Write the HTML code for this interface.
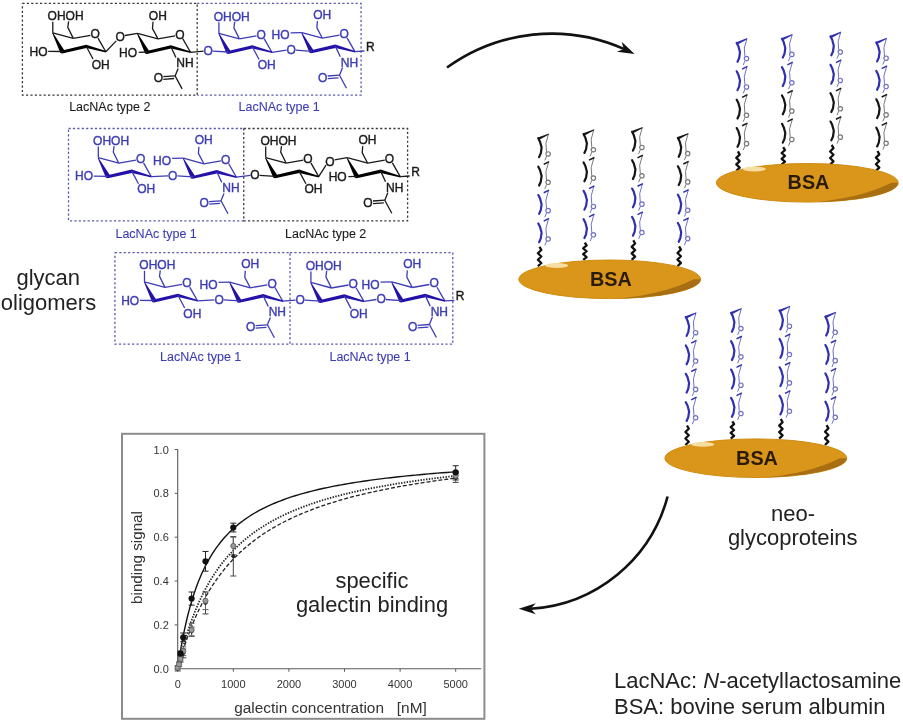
<!DOCTYPE html>
<html><head><meta charset="utf-8"><style>
html,body{margin:0;padding:0;background:#fff;}
body{width:903px;height:720px;overflow:hidden;position:relative;font-family:"Liberation Sans",sans-serif;}
svg{position:absolute;left:0;top:0;filter:blur(0.5px);}
svg text{font-family:"Liberation Sans",sans-serif;}
</style></head><body>
<svg width="903" height="720" viewBox="0 0 903 720">
<defs>
<g id="muk">
<path d="M0,0 L1.7,3.3 L3.3,9.2 L2.5,15 L0.8,18.8" stroke="#151515" stroke-width="2.2" fill="none" stroke-linecap="round" stroke-linejoin="round"/>
<path d="M10.2,-4.2 L7.6,5 L8.2,13.4 M8.4,17.6 L6.5,22" stroke="#777777" stroke-width="1" fill="none"/>
<circle cx="9.8" cy="15.6" r="2.2" stroke="#777777" stroke-width="1.2" fill="none"/>
</g>
<g id="dgk"><polygon points="10.6,-4.9 10.2,-3.6 1.0,1.4 -1.0,-0.6" fill="#151515"/></g>
<g id="tkk"><path d="M5.4,-2.3 L10.8,-5" stroke="#151515" stroke-width="1.5" fill="none"/></g>
<g id="mub">
<path d="M0,0 L1.7,3.3 L3.3,9.2 L2.5,15 L0.8,18.8" stroke="#2f2fb0" stroke-width="2.2" fill="none" stroke-linecap="round" stroke-linejoin="round"/>
<path d="M10.2,-4.2 L7.6,5 L8.2,13.4 M8.4,17.6 L6.5,22" stroke="#7070c4" stroke-width="1" fill="none"/>
<circle cx="9.8" cy="15.6" r="2.2" stroke="#7070c4" stroke-width="1.2" fill="none"/>
</g>
<g id="dgb"><polygon points="10.6,-4.9 10.2,-3.6 1.0,1.4 -1.0,-0.6" fill="#2f2fb0"/></g>
<g id="tkb"><path d="M5.4,-2.3 L10.8,-5" stroke="#2f2fb0" stroke-width="1.5" fill="none"/></g>
</defs>
<g stroke-linecap="butt">
<path d="M197.2,3.3 H361.1 V95.1 H197.2" fill="none" stroke="#5a5ab0" stroke-width="1.3" stroke-dasharray="2.2 2.2"/>
<path d="M22.4,3.3 H197.2 V95.1 H22.4 V3.3" fill="none" stroke="#3a3a3a" stroke-width="1.3" stroke-dasharray="2.2 2.2"/>
<line x1="52.8" y1="32.8" x2="73.3" y2="38.4" stroke="#1a1a1a" stroke-width="1.3"/>
<line x1="73.3" y1="38.4" x2="90.4" y2="35.4" stroke="#1a1a1a" stroke-width="1.3"/>
<line x1="98" y1="38.1" x2="105.8" y2="51.8" stroke="#1a1a1a" stroke-width="1.3"/>
<polygon points="52.8,32.6 64.1,50 86.2,44.7 106,51.1 106,52.6 86.4,48.1 62.2,53.4 60.4,53 52.2,33.1" fill="#000000"/>
<text x="90.43" y="38.32" fill="#1a1a1a" stroke="#1a1a1a" stroke-width="0.4" font-size="12" text-anchor="start" >O</text>
<line x1="52.8" y1="32.8" x2="52.8" y2="21.8" stroke="#1a1a1a" stroke-width="1.3"/>
<path d="M73.3,38.4 L67.8,27.3 L68.6,21.3" stroke="#1a1a1a" stroke-width="1.3" fill="none" />
<text x="47.6" y="20.12" fill="#1a1a1a" stroke="#1a1a1a" stroke-width="0.4" font-size="12" text-anchor="start" >OHOH</text>
<line x1="86.2" y1="46.3" x2="93" y2="59" stroke="#1a1a1a" stroke-width="1.3"/>
<text x="91.63" y="68.52" fill="#1a1a1a" stroke="#1a1a1a" stroke-width="0.4" font-size="12" text-anchor="start" >OH</text>
<line x1="62.6" y1="51.5" x2="48.2" y2="51.3" stroke="#1a1a1a" stroke-width="1.3"/>
<text x="47.47" y="55.52" fill="#1a1a1a" stroke="#1a1a1a" stroke-width="0.4" font-size="12" text-anchor="end" >HO</text>
<line x1="137.5" y1="33.3" x2="158" y2="38.9" stroke="#1a1a1a" stroke-width="1.3"/>
<line x1="158" y1="38.9" x2="175.1" y2="35.9" stroke="#1a1a1a" stroke-width="1.3"/>
<line x1="182.7" y1="38.6" x2="190.5" y2="52.3" stroke="#1a1a1a" stroke-width="1.3"/>
<polygon points="137.5,33.1 148.8,50.5 170.9,45.2 190.7,51.6 190.7,53.1 171.1,48.6 146.9,53.9 145.1,53.5 136.9,33.6" fill="#000000"/>
<text x="175.13" y="38.82" fill="#1a1a1a" stroke="#1a1a1a" stroke-width="0.4" font-size="12" text-anchor="start" >O</text>
<path d="M158,38.9 L152.5,28.5 L153,21.8" stroke="#1a1a1a" stroke-width="1.3" fill="none" />
<text x="148.83" y="19.52" fill="#1a1a1a" stroke="#1a1a1a" stroke-width="0.4" font-size="12" text-anchor="start" >OH</text>
<line x1="170.9" y1="46.8" x2="175.9" y2="57.5" stroke="#1a1a1a" stroke-width="1.3"/>
<text x="176.36" y="67.42" fill="#1a1a1a" stroke="#1a1a1a" stroke-width="0.4" font-size="12" text-anchor="start" >NH</text>
<line x1="178.1" y1="68.5" x2="175.1" y2="75.9" stroke="#1a1a1a" stroke-width="1.3"/>
<line x1="175.1" y1="75.9" x2="182.1" y2="88.9" stroke="#1a1a1a" stroke-width="1.3"/>
<line x1="175.1" y1="75.9" x2="163.3" y2="76.7" stroke="#1a1a1a" stroke-width="1.3"/>
<line x1="174.1" y1="78.5" x2="163.3" y2="79.3" stroke="#1a1a1a" stroke-width="1.3"/>
<text x="153.63" y="82.22" fill="#1a1a1a" stroke="#1a1a1a" stroke-width="0.4" font-size="12" text-anchor="start" >O</text>
<line x1="124.9" y1="35.5" x2="137.5" y2="33.3" stroke="#1a1a1a" stroke-width="1.3"/>
<text x="115.43" y="41.22" fill="#1a1a1a" stroke="#1a1a1a" stroke-width="0.4" font-size="12" text-anchor="start" >O</text>
<line x1="147.3" y1="52" x2="138.7" y2="52.3" stroke="#1a1a1a" stroke-width="1.3"/>
<text x="136.97" y="57.02" fill="#1a1a1a" stroke="#1a1a1a" stroke-width="0.4" font-size="12" text-anchor="end" >HO</text>
<line x1="105.8" y1="51.8" x2="116.3" y2="40.9" stroke="#1a1a1a" stroke-width="1.3"/>
<line x1="190.5" y1="52.3" x2="203.6" y2="51.1" stroke="#1a1a1a" stroke-width="1.3"/>
<line x1="218.9" y1="33.3" x2="239.4" y2="38.9" stroke="#3c3cb4" stroke-width="1.3"/>
<line x1="239.4" y1="38.9" x2="256.5" y2="35.9" stroke="#3c3cb4" stroke-width="1.3"/>
<line x1="264.1" y1="38.6" x2="271.9" y2="52.3" stroke="#3c3cb4" stroke-width="1.3"/>
<polygon points="218.9,33.1 230.2,50.5 252.3,45.2 272.1,51.6 272.1,53.1 252.5,48.6 228.3,53.9 226.5,53.5 218.3,33.6" fill="#2412a8"/>
<text x="256.53" y="38.82" fill="#3c3cb4" stroke="#3c3cb4" stroke-width="0.4" font-size="12" text-anchor="start" >O</text>
<line x1="218.9" y1="33.3" x2="218.9" y2="22.3" stroke="#3c3cb4" stroke-width="1.3"/>
<path d="M239.4,38.9 L233.9,27.8 L234.7,21.8" stroke="#3c3cb4" stroke-width="1.3" fill="none" />
<text x="213.7" y="20.62" fill="#3c3cb4" stroke="#3c3cb4" stroke-width="0.4" font-size="12" text-anchor="start" >OHOH</text>
<line x1="252.3" y1="46.8" x2="259.1" y2="59.5" stroke="#3c3cb4" stroke-width="1.3"/>
<text x="257.73" y="69.02" fill="#3c3cb4" stroke="#3c3cb4" stroke-width="0.4" font-size="12" text-anchor="start" >OH</text>
<line x1="228.7" y1="52" x2="212.7" y2="51.1" stroke="#3c3cb4" stroke-width="1.3"/>
<text x="203.43" y="55.02" fill="#3c3cb4" stroke="#3c3cb4" stroke-width="0.4" font-size="12" text-anchor="start" >O</text>
<line x1="301.9" y1="32.6" x2="322.4" y2="38.2" stroke="#3c3cb4" stroke-width="1.3"/>
<line x1="322.4" y1="38.2" x2="339.5" y2="35.2" stroke="#3c3cb4" stroke-width="1.3"/>
<line x1="347.1" y1="37.9" x2="354.9" y2="51.6" stroke="#3c3cb4" stroke-width="1.3"/>
<polygon points="301.9,32.4 313.2,49.8 335.3,44.5 355.1,50.9 355.1,52.4 335.5,47.9 311.3,53.2 309.5,52.8 301.3,32.9" fill="#2412a8"/>
<text x="339.53" y="38.12" fill="#3c3cb4" stroke="#3c3cb4" stroke-width="0.4" font-size="12" text-anchor="start" >O</text>
<path d="M322.4,38.2 L316.9,27.8 L317.4,21.1" stroke="#3c3cb4" stroke-width="1.3" fill="none" />
<text x="313.23" y="18.82" fill="#3c3cb4" stroke="#3c3cb4" stroke-width="0.4" font-size="12" text-anchor="start" >OH</text>
<line x1="335.3" y1="46.1" x2="340.3" y2="56.8" stroke="#3c3cb4" stroke-width="1.3"/>
<text x="340.76" y="66.72" fill="#3c3cb4" stroke="#3c3cb4" stroke-width="0.4" font-size="12" text-anchor="start" >NH</text>
<line x1="342.5" y1="67.8" x2="339.5" y2="75.2" stroke="#3c3cb4" stroke-width="1.3"/>
<line x1="339.5" y1="75.2" x2="346.5" y2="88.2" stroke="#3c3cb4" stroke-width="1.3"/>
<line x1="339.5" y1="75.2" x2="327.7" y2="76" stroke="#3c3cb4" stroke-width="1.3"/>
<line x1="338.5" y1="77.8" x2="327.7" y2="78.6" stroke="#3c3cb4" stroke-width="1.3"/>
<text x="318.03" y="81.52" fill="#3c3cb4" stroke="#3c3cb4" stroke-width="0.4" font-size="12" text-anchor="start" >O</text>
<line x1="290.6" y1="32.8" x2="301.9" y2="32.6" stroke="#3c3cb4" stroke-width="1.3"/>
<text x="289.57" y="39.42" fill="#3c3cb4" stroke="#3c3cb4" stroke-width="0.4" font-size="12" text-anchor="end" >HO</text>
<line x1="295.9" y1="50.2" x2="311.7" y2="51.3" stroke="#3c3cb4" stroke-width="1.3"/>
<text x="286.53" y="53.92" fill="#3c3cb4" stroke="#3c3cb4" stroke-width="0.4" font-size="12" text-anchor="start" >O</text>
<line x1="271.9" y1="52.3" x2="286.5" y2="50.2" stroke="#3c3cb4" stroke-width="1.3"/>
<line x1="354.9" y1="51.6" x2="364.4" y2="51" stroke="#3c3cb4" stroke-width="1.3"/>
<text x="365.96" y="50.62" fill="#1a1a1a" stroke="#1a1a1a" stroke-width="0.4" font-size="12" text-anchor="start" >R</text>
<text x="109.8" y="110.5" fill="#1a1a1a" stroke="#1a1a1a" stroke-width="0.1" font-size="12.5" text-anchor="middle" >LacNAc type 2</text>
<text x="279.15" y="110.5" fill="#3c3cb4" stroke="#3c3cb4" stroke-width="0.1" font-size="12.5" text-anchor="middle" >LacNAc type 1</text>
<path d="M68.5,128.5 H243.75 M243.75,220.8 H68.5 V128.5" fill="none" stroke="#5a5ab0" stroke-width="1.3" stroke-dasharray="2.2 2.2"/>
<path d="M243.75,128.5 H407.6 V220.8 H243.75 V128.5" fill="none" stroke="#3a3a3a" stroke-width="1.3" stroke-dasharray="2.2 2.2"/>
<line x1="98.3" y1="157.6" x2="118.8" y2="163.2" stroke="#3c3cb4" stroke-width="1.3"/>
<line x1="118.8" y1="163.2" x2="135.9" y2="160.2" stroke="#3c3cb4" stroke-width="1.3"/>
<line x1="143.5" y1="162.9" x2="151.3" y2="176.6" stroke="#3c3cb4" stroke-width="1.3"/>
<polygon points="98.3,157.4 109.6,174.8 131.7,169.5 151.5,175.9 151.5,177.4 131.9,172.9 107.7,178.2 105.9,177.8 97.7,157.9" fill="#2412a8"/>
<text x="135.93" y="163.12" fill="#3c3cb4" stroke="#3c3cb4" stroke-width="0.4" font-size="12" text-anchor="start" >O</text>
<line x1="98.3" y1="157.6" x2="98.3" y2="146.6" stroke="#3c3cb4" stroke-width="1.3"/>
<path d="M118.8,163.2 L113.3,152.1 L114.1,146.1" stroke="#3c3cb4" stroke-width="1.3" fill="none" />
<text x="93.1" y="144.92" fill="#3c3cb4" stroke="#3c3cb4" stroke-width="0.4" font-size="12" text-anchor="start" >OHOH</text>
<line x1="131.7" y1="171.1" x2="138.5" y2="183.8" stroke="#3c3cb4" stroke-width="1.3"/>
<text x="137.13" y="193.32" fill="#3c3cb4" stroke="#3c3cb4" stroke-width="0.4" font-size="12" text-anchor="start" >OH</text>
<line x1="108.1" y1="176.3" x2="93.7" y2="176.1" stroke="#3c3cb4" stroke-width="1.3"/>
<text x="92.97" y="180.32" fill="#3c3cb4" stroke="#3c3cb4" stroke-width="0.4" font-size="12" text-anchor="end" >HO</text>
<line x1="183.4" y1="158.2" x2="203.9" y2="163.8" stroke="#3c3cb4" stroke-width="1.3"/>
<line x1="203.9" y1="163.8" x2="221" y2="160.8" stroke="#3c3cb4" stroke-width="1.3"/>
<line x1="228.6" y1="163.5" x2="236.4" y2="177.2" stroke="#3c3cb4" stroke-width="1.3"/>
<polygon points="183.4,158 194.7,175.4 216.8,170.1 236.6,176.5 236.6,178 217,173.5 192.8,178.8 191,178.4 182.8,158.5" fill="#2412a8"/>
<text x="221.03" y="163.72" fill="#3c3cb4" stroke="#3c3cb4" stroke-width="0.4" font-size="12" text-anchor="start" >O</text>
<path d="M203.9,163.8 L198.4,153.4 L198.9,146.7" stroke="#3c3cb4" stroke-width="1.3" fill="none" />
<text x="194.73" y="144.42" fill="#3c3cb4" stroke="#3c3cb4" stroke-width="0.4" font-size="12" text-anchor="start" >OH</text>
<line x1="216.8" y1="171.7" x2="221.8" y2="182.4" stroke="#3c3cb4" stroke-width="1.3"/>
<text x="222.26" y="192.32" fill="#3c3cb4" stroke="#3c3cb4" stroke-width="0.4" font-size="12" text-anchor="start" >NH</text>
<line x1="224" y1="193.4" x2="221" y2="200.8" stroke="#3c3cb4" stroke-width="1.3"/>
<line x1="221" y1="200.8" x2="228" y2="213.8" stroke="#3c3cb4" stroke-width="1.3"/>
<line x1="221" y1="200.8" x2="209.2" y2="201.6" stroke="#3c3cb4" stroke-width="1.3"/>
<line x1="220" y1="203.4" x2="209.2" y2="204.2" stroke="#3c3cb4" stroke-width="1.3"/>
<text x="199.53" y="207.12" fill="#3c3cb4" stroke="#3c3cb4" stroke-width="0.4" font-size="12" text-anchor="start" >O</text>
<line x1="172.1" y1="158.4" x2="183.4" y2="158.2" stroke="#3c3cb4" stroke-width="1.3"/>
<text x="171.07" y="165.02" fill="#3c3cb4" stroke="#3c3cb4" stroke-width="0.4" font-size="12" text-anchor="end" >HO</text>
<line x1="177.4" y1="175.8" x2="193.2" y2="176.9" stroke="#3c3cb4" stroke-width="1.3"/>
<text x="168.03" y="179.52" fill="#3c3cb4" stroke="#3c3cb4" stroke-width="0.4" font-size="12" text-anchor="start" >O</text>
<line x1="151.3" y1="176.6" x2="168" y2="175.8" stroke="#3c3cb4" stroke-width="1.3"/>
<line x1="236.4" y1="177.2" x2="250.4" y2="175.4" stroke="#3c3cb4" stroke-width="1.3"/>
<line x1="265.7" y1="157.6" x2="286.2" y2="163.2" stroke="#1a1a1a" stroke-width="1.3"/>
<line x1="286.2" y1="163.2" x2="303.3" y2="160.2" stroke="#1a1a1a" stroke-width="1.3"/>
<line x1="310.9" y1="162.9" x2="318.7" y2="176.6" stroke="#1a1a1a" stroke-width="1.3"/>
<polygon points="265.7,157.4 277,174.8 299.1,169.5 318.9,175.9 318.9,177.4 299.3,172.9 275.1,178.2 273.3,177.8 265.1,157.9" fill="#000000"/>
<text x="303.33" y="163.12" fill="#1a1a1a" stroke="#1a1a1a" stroke-width="0.4" font-size="12" text-anchor="start" >O</text>
<line x1="265.7" y1="157.6" x2="265.7" y2="146.6" stroke="#1a1a1a" stroke-width="1.3"/>
<path d="M286.2,163.2 L280.7,152.1 L281.5,146.1" stroke="#1a1a1a" stroke-width="1.3" fill="none" />
<text x="260.5" y="144.92" fill="#1a1a1a" stroke="#1a1a1a" stroke-width="0.4" font-size="12" text-anchor="start" >OHOH</text>
<line x1="299.1" y1="171.1" x2="305.9" y2="183.8" stroke="#1a1a1a" stroke-width="1.3"/>
<text x="304.53" y="193.32" fill="#1a1a1a" stroke="#1a1a1a" stroke-width="0.4" font-size="12" text-anchor="start" >OH</text>
<line x1="275.5" y1="176.3" x2="259.5" y2="175.4" stroke="#1a1a1a" stroke-width="1.3"/>
<text x="250.23" y="179.32" fill="#1a1a1a" stroke="#1a1a1a" stroke-width="0.4" font-size="12" text-anchor="start" >O</text>
<line x1="347.2" y1="157.6" x2="367.7" y2="163.2" stroke="#1a1a1a" stroke-width="1.3"/>
<line x1="367.7" y1="163.2" x2="384.8" y2="160.2" stroke="#1a1a1a" stroke-width="1.3"/>
<line x1="392.4" y1="162.9" x2="400.2" y2="176.6" stroke="#1a1a1a" stroke-width="1.3"/>
<polygon points="347.2,157.4 358.5,174.8 380.6,169.5 400.4,175.9 400.4,177.4 380.8,172.9 356.6,178.2 354.8,177.8 346.6,157.9" fill="#000000"/>
<text x="384.83" y="163.12" fill="#1a1a1a" stroke="#1a1a1a" stroke-width="0.4" font-size="12" text-anchor="start" >O</text>
<path d="M367.7,163.2 L362.2,152.8 L362.7,146.1" stroke="#1a1a1a" stroke-width="1.3" fill="none" />
<text x="358.53" y="143.82" fill="#1a1a1a" stroke="#1a1a1a" stroke-width="0.4" font-size="12" text-anchor="start" >OH</text>
<line x1="380.6" y1="171.1" x2="385.6" y2="181.8" stroke="#1a1a1a" stroke-width="1.3"/>
<text x="386.06" y="191.72" fill="#1a1a1a" stroke="#1a1a1a" stroke-width="0.4" font-size="12" text-anchor="start" >NH</text>
<line x1="387.8" y1="192.8" x2="384.8" y2="200.2" stroke="#1a1a1a" stroke-width="1.3"/>
<line x1="384.8" y1="200.2" x2="391.8" y2="213.2" stroke="#1a1a1a" stroke-width="1.3"/>
<line x1="384.8" y1="200.2" x2="373" y2="201" stroke="#1a1a1a" stroke-width="1.3"/>
<line x1="383.8" y1="202.8" x2="373" y2="203.6" stroke="#1a1a1a" stroke-width="1.3"/>
<text x="363.33" y="206.52" fill="#1a1a1a" stroke="#1a1a1a" stroke-width="0.4" font-size="12" text-anchor="start" >O</text>
<line x1="334.6" y1="159.8" x2="347.2" y2="157.6" stroke="#1a1a1a" stroke-width="1.3"/>
<text x="325.13" y="165.52" fill="#1a1a1a" stroke="#1a1a1a" stroke-width="0.4" font-size="12" text-anchor="start" >O</text>
<line x1="357" y1="176.3" x2="348.4" y2="176.6" stroke="#1a1a1a" stroke-width="1.3"/>
<text x="346.67" y="181.32" fill="#1a1a1a" stroke="#1a1a1a" stroke-width="0.4" font-size="12" text-anchor="end" >HO</text>
<line x1="318.7" y1="176.6" x2="326" y2="165.2" stroke="#1a1a1a" stroke-width="1.3"/>
<line x1="400.2" y1="176.6" x2="409.7" y2="176" stroke="#1a1a1a" stroke-width="1.3"/>
<text x="411.26" y="175.62" fill="#1a1a1a" stroke="#1a1a1a" stroke-width="0.4" font-size="12" text-anchor="start" >R</text>
<text x="156.12" y="237.5" fill="#3c3cb4" stroke="#3c3cb4" stroke-width="0.1" font-size="12.5" text-anchor="middle" >LacNAc type 1</text>
<text x="325.68" y="237.5" fill="#1a1a1a" stroke="#1a1a1a" stroke-width="0.1" font-size="12.5" text-anchor="middle" >LacNAc type 2</text>
<path d="M114.9,252.6 H290 V344.2 H114.9 V252.6" fill="none" stroke="#5a5ab0" stroke-width="1.3" stroke-dasharray="2.2 2.2"/>
<path d="M290,252.6 H452.8 V344.2 H290" fill="none" stroke="#5a5ab0" stroke-width="1.3" stroke-dasharray="2.2 2.2"/>
<line x1="144.5" y1="281.8" x2="165" y2="287.4" stroke="#3c3cb4" stroke-width="1.3"/>
<line x1="165" y1="287.4" x2="182.1" y2="284.4" stroke="#3c3cb4" stroke-width="1.3"/>
<line x1="189.7" y1="287.1" x2="197.5" y2="300.8" stroke="#3c3cb4" stroke-width="1.3"/>
<polygon points="144.5,281.6 155.8,299 177.9,293.7 197.7,300.1 197.7,301.6 178.1,297.1 153.9,302.4 152.1,302 143.9,282.1" fill="#2412a8"/>
<text x="182.13" y="287.32" fill="#3c3cb4" stroke="#3c3cb4" stroke-width="0.4" font-size="12" text-anchor="start" >O</text>
<line x1="144.5" y1="281.8" x2="144.5" y2="270.8" stroke="#3c3cb4" stroke-width="1.3"/>
<path d="M165,287.4 L159.5,276.3 L160.3,270.3" stroke="#3c3cb4" stroke-width="1.3" fill="none" />
<text x="139.3" y="269.12" fill="#3c3cb4" stroke="#3c3cb4" stroke-width="0.4" font-size="12" text-anchor="start" >OHOH</text>
<line x1="177.9" y1="295.3" x2="184.7" y2="308" stroke="#3c3cb4" stroke-width="1.3"/>
<text x="183.33" y="317.52" fill="#3c3cb4" stroke="#3c3cb4" stroke-width="0.4" font-size="12" text-anchor="start" >OH</text>
<line x1="154.3" y1="300.5" x2="139.9" y2="300.3" stroke="#3c3cb4" stroke-width="1.3"/>
<text x="139.17" y="304.52" fill="#3c3cb4" stroke="#3c3cb4" stroke-width="0.4" font-size="12" text-anchor="end" >HO</text>
<line x1="229.8" y1="282.2" x2="250.3" y2="287.8" stroke="#3c3cb4" stroke-width="1.3"/>
<line x1="250.3" y1="287.8" x2="267.4" y2="284.8" stroke="#3c3cb4" stroke-width="1.3"/>
<line x1="275" y1="287.5" x2="282.8" y2="301.2" stroke="#3c3cb4" stroke-width="1.3"/>
<polygon points="229.8,282 241.1,299.4 263.2,294.1 283,300.5 283,302 263.4,297.5 239.2,302.8 237.4,302.4 229.2,282.5" fill="#2412a8"/>
<text x="267.43" y="287.72" fill="#3c3cb4" stroke="#3c3cb4" stroke-width="0.4" font-size="12" text-anchor="start" >O</text>
<path d="M250.3,287.8 L244.8,277.4 L245.3,270.7" stroke="#3c3cb4" stroke-width="1.3" fill="none" />
<text x="241.13" y="268.42" fill="#3c3cb4" stroke="#3c3cb4" stroke-width="0.4" font-size="12" text-anchor="start" >OH</text>
<line x1="263.2" y1="295.7" x2="268.2" y2="306.4" stroke="#3c3cb4" stroke-width="1.3"/>
<text x="268.66" y="316.32" fill="#3c3cb4" stroke="#3c3cb4" stroke-width="0.4" font-size="12" text-anchor="start" >NH</text>
<line x1="270.4" y1="317.4" x2="267.4" y2="324.8" stroke="#3c3cb4" stroke-width="1.3"/>
<line x1="267.4" y1="324.8" x2="274.4" y2="337.8" stroke="#3c3cb4" stroke-width="1.3"/>
<line x1="267.4" y1="324.8" x2="255.6" y2="325.6" stroke="#3c3cb4" stroke-width="1.3"/>
<line x1="266.4" y1="327.4" x2="255.6" y2="328.2" stroke="#3c3cb4" stroke-width="1.3"/>
<text x="245.93" y="331.12" fill="#3c3cb4" stroke="#3c3cb4" stroke-width="0.4" font-size="12" text-anchor="start" >O</text>
<line x1="218.5" y1="282.4" x2="229.8" y2="282.2" stroke="#3c3cb4" stroke-width="1.3"/>
<text x="217.47" y="289.02" fill="#3c3cb4" stroke="#3c3cb4" stroke-width="0.4" font-size="12" text-anchor="end" >HO</text>
<line x1="223.8" y1="299.8" x2="239.6" y2="300.9" stroke="#3c3cb4" stroke-width="1.3"/>
<text x="214.43" y="303.52" fill="#3c3cb4" stroke="#3c3cb4" stroke-width="0.4" font-size="12" text-anchor="start" >O</text>
<line x1="197.5" y1="300.8" x2="214.4" y2="299.8" stroke="#3c3cb4" stroke-width="1.3"/>
<line x1="282.8" y1="301.2" x2="295.6" y2="300.2" stroke="#3c3cb4" stroke-width="1.3"/>
<line x1="310.9" y1="282.4" x2="331.4" y2="288" stroke="#3c3cb4" stroke-width="1.3"/>
<line x1="331.4" y1="288" x2="348.5" y2="285" stroke="#3c3cb4" stroke-width="1.3"/>
<line x1="356.1" y1="287.7" x2="363.9" y2="301.4" stroke="#3c3cb4" stroke-width="1.3"/>
<polygon points="310.9,282.2 322.2,299.6 344.3,294.3 364.1,300.7 364.1,302.2 344.5,297.7 320.3,303 318.5,302.6 310.3,282.7" fill="#2412a8"/>
<text x="348.53" y="287.92" fill="#3c3cb4" stroke="#3c3cb4" stroke-width="0.4" font-size="12" text-anchor="start" >O</text>
<line x1="310.9" y1="282.4" x2="310.9" y2="271.4" stroke="#3c3cb4" stroke-width="1.3"/>
<path d="M331.4,288 L325.9,276.9 L326.7,270.9" stroke="#3c3cb4" stroke-width="1.3" fill="none" />
<text x="305.7" y="269.72" fill="#3c3cb4" stroke="#3c3cb4" stroke-width="0.4" font-size="12" text-anchor="start" >OHOH</text>
<line x1="344.3" y1="295.9" x2="351.1" y2="308.6" stroke="#3c3cb4" stroke-width="1.3"/>
<text x="349.73" y="318.12" fill="#3c3cb4" stroke="#3c3cb4" stroke-width="0.4" font-size="12" text-anchor="start" >OH</text>
<line x1="320.7" y1="301.1" x2="304.7" y2="300.2" stroke="#3c3cb4" stroke-width="1.3"/>
<text x="295.43" y="304.12" fill="#3c3cb4" stroke="#3c3cb4" stroke-width="0.4" font-size="12" text-anchor="start" >O</text>
<line x1="391.8" y1="281.9" x2="412.3" y2="287.5" stroke="#3c3cb4" stroke-width="1.3"/>
<line x1="412.3" y1="287.5" x2="429.4" y2="284.5" stroke="#3c3cb4" stroke-width="1.3"/>
<line x1="437" y1="287.2" x2="444.8" y2="300.9" stroke="#3c3cb4" stroke-width="1.3"/>
<polygon points="391.8,281.7 403.1,299.1 425.2,293.8 445,300.2 445,301.7 425.4,297.2 401.2,302.5 399.4,302.1 391.2,282.2" fill="#2412a8"/>
<text x="429.43" y="287.42" fill="#3c3cb4" stroke="#3c3cb4" stroke-width="0.4" font-size="12" text-anchor="start" >O</text>
<path d="M412.3,287.5 L406.8,277.1 L407.3,270.4" stroke="#3c3cb4" stroke-width="1.3" fill="none" />
<text x="403.13" y="268.12" fill="#3c3cb4" stroke="#3c3cb4" stroke-width="0.4" font-size="12" text-anchor="start" >OH</text>
<line x1="425.2" y1="295.4" x2="430.2" y2="306.1" stroke="#3c3cb4" stroke-width="1.3"/>
<text x="430.66" y="316.02" fill="#3c3cb4" stroke="#3c3cb4" stroke-width="0.4" font-size="12" text-anchor="start" >NH</text>
<line x1="432.4" y1="317.1" x2="429.4" y2="324.5" stroke="#3c3cb4" stroke-width="1.3"/>
<line x1="429.4" y1="324.5" x2="436.4" y2="337.5" stroke="#3c3cb4" stroke-width="1.3"/>
<line x1="429.4" y1="324.5" x2="417.6" y2="325.3" stroke="#3c3cb4" stroke-width="1.3"/>
<line x1="428.4" y1="327.1" x2="417.6" y2="327.9" stroke="#3c3cb4" stroke-width="1.3"/>
<text x="407.93" y="330.82" fill="#3c3cb4" stroke="#3c3cb4" stroke-width="0.4" font-size="12" text-anchor="start" >O</text>
<line x1="380.5" y1="282.1" x2="391.8" y2="281.9" stroke="#3c3cb4" stroke-width="1.3"/>
<text x="379.47" y="288.72" fill="#3c3cb4" stroke="#3c3cb4" stroke-width="0.4" font-size="12" text-anchor="end" >HO</text>
<line x1="385.8" y1="299.5" x2="401.6" y2="300.6" stroke="#3c3cb4" stroke-width="1.3"/>
<text x="376.43" y="303.22" fill="#3c3cb4" stroke="#3c3cb4" stroke-width="0.4" font-size="12" text-anchor="start" >O</text>
<line x1="363.9" y1="301.4" x2="376.4" y2="299.5" stroke="#3c3cb4" stroke-width="1.3"/>
<line x1="444.8" y1="300.9" x2="454.3" y2="300.3" stroke="#3c3cb4" stroke-width="1.3"/>
<text x="455.86" y="299.92" fill="#1a1a1a" stroke="#1a1a1a" stroke-width="0.4" font-size="12" text-anchor="start" >R</text>
<text x="200.65" y="361" fill="#3c3cb4" stroke="#3c3cb4" stroke-width="0.1" font-size="12.5" text-anchor="middle" >LacNAc type 1</text>
<text x="370.1" y="361" fill="#3c3cb4" stroke="#3c3cb4" stroke-width="0.1" font-size="12.5" text-anchor="middle" >LacNAc type 1</text>
</g>
<path d="M447,67.5 A178.58,178.58 0 0 1 623.79,48.9" stroke="#111" stroke-width="2.6" fill="none"/>
<path d="M634.6,54.1 L616.9,51.68 L623.79,48.9 L621.67,41.77 Z" fill="#111"/>
<path d="M667.6,496.5 A151.5,151.5 0 0 1 530.74,608.82" stroke="#111" stroke-width="2.6" fill="none"/>
<path d="M518.75,608.8 L535.76,603.33 L530.75,608.82 L535.74,614.33 Z" fill="#111"/>
<use href="#muk" x="538.3" y="138.35"/>
<use href="#dgk" x="538.3" y="138.35"/>
<use href="#muk" x="538.3" y="166.7"/>
<use href="#tkk" x="538.3" y="166.7"/>
<use href="#mub" x="538.3" y="195.05"/>
<use href="#tkb" x="538.3" y="195.05"/>
<use href="#mub" x="538.3" y="223.4"/>
<use href="#tkb" x="538.3" y="223.4"/>
<path d="M539.5,246.75 L541.3,250 L537.9,253.25 L541.3,256.5 L537.9,259.75 L541.3,263 L537.9,266.25" stroke="#111" stroke-width="2.3" fill="none" stroke-linejoin="round"/>
<use href="#muk" x="583.6" y="134.15"/>
<use href="#dgk" x="583.6" y="134.15"/>
<use href="#muk" x="583.6" y="162.5"/>
<use href="#tkk" x="583.6" y="162.5"/>
<use href="#mub" x="583.6" y="190.85"/>
<use href="#tkb" x="583.6" y="190.85"/>
<use href="#mub" x="583.6" y="219.2"/>
<use href="#tkb" x="583.6" y="219.2"/>
<path d="M584.8,242.55 L586.6,245.45 L583.2,248.35 L586.6,251.25 L583.2,254.15 L586.6,257.05 L583.2,259.95" stroke="#111" stroke-width="2.3" fill="none" stroke-linejoin="round"/>
<use href="#muk" x="632.1" y="131.85"/>
<use href="#dgk" x="632.1" y="131.85"/>
<use href="#muk" x="632.1" y="160.2"/>
<use href="#tkk" x="632.1" y="160.2"/>
<use href="#mub" x="632.1" y="188.55"/>
<use href="#tkb" x="632.1" y="188.55"/>
<use href="#mub" x="632.1" y="216.9"/>
<use href="#tkb" x="632.1" y="216.9"/>
<path d="M633.3,240.25 L635.1,243.53 L631.7,246.82 L635.1,250.1 L631.7,253.38 L635.1,256.67 L631.7,259.95" stroke="#111" stroke-width="2.3" fill="none" stroke-linejoin="round"/>
<use href="#muk" x="677.9" y="137.95"/>
<use href="#dgk" x="677.9" y="137.95"/>
<use href="#muk" x="677.9" y="166.3"/>
<use href="#tkk" x="677.9" y="166.3"/>
<use href="#mub" x="677.9" y="194.65"/>
<use href="#tkb" x="677.9" y="194.65"/>
<use href="#mub" x="677.9" y="223"/>
<use href="#tkb" x="677.9" y="223"/>
<path d="M679.1,246.35 L680.9,249.67 L677.5,252.98 L680.9,256.3 L677.5,259.62 L680.9,262.93 L677.5,266.25" stroke="#111" stroke-width="2.3" fill="none" stroke-linejoin="round"/>
<clipPath id="cl609"><ellipse cx="609.7" cy="279.3" rx="90.9" ry="19.3"/></clipPath>
<ellipse cx="609.7" cy="279.3" rx="90.9" ry="19.3" fill="#D9961A" stroke="#CF8C12" stroke-width="1"/>
<path clip-path="url(#cl609)" d="M614.7,299.1 Q664.7,294.3 693.7,279.3 L705.6,279.3 L705.6,303.6 Z" fill="#A86E14"/>
<ellipse cx="556.7" cy="265.5" rx="11.5" ry="2.4" fill="#F6DDA0"/>
<text x="610.9" y="285.9" font-size="19.8" font-weight="bold" fill="#2a1a08" text-anchor="middle">BSA</text>
<use href="#mub" x="736.7" y="43"/>
<use href="#dgb" x="736.7" y="43"/>
<use href="#mub" x="736.7" y="71.35"/>
<use href="#tkb" x="736.7" y="71.35"/>
<use href="#muk" x="736.7" y="99.7"/>
<use href="#tkk" x="736.7" y="99.7"/>
<use href="#muk" x="736.7" y="128.05"/>
<use href="#tkk" x="736.7" y="128.05"/>
<path d="M737.9,151.4 L739.7,154.65 L736.3,157.9 L739.7,161.15 L736.3,164.4 L739.7,167.65 L736.3,170.9" stroke="#111" stroke-width="2.3" fill="none" stroke-linejoin="round"/>
<use href="#mub" x="782" y="38.8"/>
<use href="#dgb" x="782" y="38.8"/>
<use href="#mub" x="782" y="67.15"/>
<use href="#tkb" x="782" y="67.15"/>
<use href="#muk" x="782" y="95.5"/>
<use href="#tkk" x="782" y="95.5"/>
<use href="#muk" x="782" y="123.85"/>
<use href="#tkk" x="782" y="123.85"/>
<path d="M783.2,147.2 L785,150.1 L781.6,153 L785,155.9 L781.6,158.8 L785,161.7 L781.6,164.6" stroke="#111" stroke-width="2.3" fill="none" stroke-linejoin="round"/>
<use href="#mub" x="830.5" y="36.5"/>
<use href="#dgb" x="830.5" y="36.5"/>
<use href="#mub" x="830.5" y="64.85"/>
<use href="#tkb" x="830.5" y="64.85"/>
<use href="#muk" x="830.5" y="93.2"/>
<use href="#tkk" x="830.5" y="93.2"/>
<use href="#muk" x="830.5" y="121.55"/>
<use href="#tkk" x="830.5" y="121.55"/>
<path d="M831.7,144.9 L833.5,148.18 L830.1,151.47 L833.5,154.75 L830.1,158.03 L833.5,161.32 L830.1,164.6" stroke="#111" stroke-width="2.3" fill="none" stroke-linejoin="round"/>
<use href="#mub" x="876.3" y="42.6"/>
<use href="#dgb" x="876.3" y="42.6"/>
<use href="#mub" x="876.3" y="70.95"/>
<use href="#tkb" x="876.3" y="70.95"/>
<use href="#muk" x="876.3" y="99.3"/>
<use href="#tkk" x="876.3" y="99.3"/>
<use href="#muk" x="876.3" y="127.65"/>
<use href="#tkk" x="876.3" y="127.65"/>
<path d="M877.5,151 L879.3,154.32 L875.9,157.63 L879.3,160.95 L875.9,164.27 L879.3,167.58 L875.9,170.9" stroke="#111" stroke-width="2.3" fill="none" stroke-linejoin="round"/>
<clipPath id="cl807"><ellipse cx="807.3" cy="182.8" rx="90.9" ry="19.3"/></clipPath>
<ellipse cx="807.3" cy="182.8" rx="90.9" ry="19.3" fill="#D9961A" stroke="#CF8C12" stroke-width="1"/>
<path clip-path="url(#cl807)" d="M812.3,202.6 Q862.3,197.8 891.3,182.8 L903.2,182.8 L903.2,207.1 Z" fill="#A86E14"/>
<ellipse cx="754.3" cy="169" rx="11.5" ry="2.4" fill="#F6DDA0"/>
<text x="808.5" y="189.4" font-size="19.8" font-weight="bold" fill="#2a1a08" text-anchor="middle">BSA</text>
<use href="#mub" x="685.8" y="317.1"/>
<use href="#dgb" x="685.8" y="317.1"/>
<use href="#mub" x="685.8" y="345.45"/>
<use href="#tkb" x="685.8" y="345.45"/>
<use href="#mub" x="685.8" y="373.8"/>
<use href="#tkb" x="685.8" y="373.8"/>
<use href="#mub" x="685.8" y="402.15"/>
<use href="#tkb" x="685.8" y="402.15"/>
<path d="M687,425.5 L688.8,428.75 L685.4,432 L688.8,435.25 L685.4,438.5 L688.8,441.75 L685.4,445" stroke="#111" stroke-width="2.3" fill="none" stroke-linejoin="round"/>
<use href="#mub" x="731.1" y="312.9"/>
<use href="#dgb" x="731.1" y="312.9"/>
<use href="#mub" x="731.1" y="341.25"/>
<use href="#tkb" x="731.1" y="341.25"/>
<use href="#mub" x="731.1" y="369.6"/>
<use href="#tkb" x="731.1" y="369.6"/>
<use href="#mub" x="731.1" y="397.95"/>
<use href="#tkb" x="731.1" y="397.95"/>
<path d="M732.3,421.3 L734.1,424.2 L730.7,427.1 L734.1,430 L730.7,432.9 L734.1,435.8 L730.7,438.7" stroke="#111" stroke-width="2.3" fill="none" stroke-linejoin="round"/>
<use href="#mub" x="779.6" y="310.6"/>
<use href="#dgb" x="779.6" y="310.6"/>
<use href="#mub" x="779.6" y="338.95"/>
<use href="#tkb" x="779.6" y="338.95"/>
<use href="#mub" x="779.6" y="367.3"/>
<use href="#tkb" x="779.6" y="367.3"/>
<use href="#mub" x="779.6" y="395.65"/>
<use href="#tkb" x="779.6" y="395.65"/>
<path d="M780.8,419 L782.6,422.28 L779.2,425.57 L782.6,428.85 L779.2,432.13 L782.6,435.42 L779.2,438.7" stroke="#111" stroke-width="2.3" fill="none" stroke-linejoin="round"/>
<use href="#mub" x="825.4" y="316.7"/>
<use href="#dgb" x="825.4" y="316.7"/>
<use href="#mub" x="825.4" y="345.05"/>
<use href="#tkb" x="825.4" y="345.05"/>
<use href="#mub" x="825.4" y="373.4"/>
<use href="#tkb" x="825.4" y="373.4"/>
<use href="#mub" x="825.4" y="401.75"/>
<use href="#tkb" x="825.4" y="401.75"/>
<path d="M826.6,425.1 L828.4,428.42 L825,431.73 L828.4,435.05 L825,438.37 L828.4,441.68 L825,445" stroke="#111" stroke-width="2.3" fill="none" stroke-linejoin="round"/>
<clipPath id="cl755"><ellipse cx="755.8" cy="458.2" rx="90.9" ry="19.3"/></clipPath>
<ellipse cx="755.8" cy="458.2" rx="90.9" ry="19.3" fill="#D9961A" stroke="#CF8C12" stroke-width="1"/>
<path clip-path="url(#cl755)" d="M760.8,478 Q810.8,473.2 839.8,458.2 L851.7,458.2 L851.7,482.5 Z" fill="#A86E14"/>
<ellipse cx="702.8" cy="444.4" rx="11.5" ry="2.4" fill="#F6DDA0"/>
<text x="757" y="464.8" font-size="19.8" font-weight="bold" fill="#2a1a08" text-anchor="middle">BSA</text>
<rect x="122" y="433.8" width="362.4" height="285" fill="none" stroke="#8c8c8c" stroke-width="2"/>
<path d="M177.7,449.2 V668.75 H481.2" stroke="#5a5a5a" stroke-width="1.1" fill="none"/>
<line x1="174.7" y1="668.75" x2="177.7" y2="668.75" stroke="#5a5a5a" stroke-width="1"/>
<text x="168.8" y="672.75" font-size="11" fill="#333" text-anchor="end">0.0</text>
<line x1="174.7" y1="624.9" x2="177.7" y2="624.9" stroke="#5a5a5a" stroke-width="1"/>
<text x="168.8" y="628.9" font-size="11" fill="#333" text-anchor="end">0.2</text>
<line x1="174.7" y1="581.05" x2="177.7" y2="581.05" stroke="#5a5a5a" stroke-width="1"/>
<text x="168.8" y="585.05" font-size="11" fill="#333" text-anchor="end">0.4</text>
<line x1="174.7" y1="537.2" x2="177.7" y2="537.2" stroke="#5a5a5a" stroke-width="1"/>
<text x="168.8" y="541.2" font-size="11" fill="#333" text-anchor="end">0.6</text>
<line x1="174.7" y1="493.35" x2="177.7" y2="493.35" stroke="#5a5a5a" stroke-width="1"/>
<text x="168.8" y="497.35" font-size="11" fill="#333" text-anchor="end">0.8</text>
<line x1="174.7" y1="449.5" x2="177.7" y2="449.5" stroke="#5a5a5a" stroke-width="1"/>
<text x="168.8" y="453.5" font-size="11" fill="#333" text-anchor="end">1.0</text>
<line x1="177.7" y1="668.75" x2="177.7" y2="671.75" stroke="#5a5a5a" stroke-width="1"/>
<text x="177.7" y="687.6" font-size="11" fill="#333" text-anchor="middle">0</text>
<line x1="233.3" y1="668.75" x2="233.3" y2="671.75" stroke="#5a5a5a" stroke-width="1"/>
<text x="233.3" y="687.6" font-size="11" fill="#333" text-anchor="middle">1000</text>
<line x1="288.9" y1="668.75" x2="288.9" y2="671.75" stroke="#5a5a5a" stroke-width="1"/>
<text x="288.9" y="687.6" font-size="11" fill="#333" text-anchor="middle">2000</text>
<line x1="344.5" y1="668.75" x2="344.5" y2="671.75" stroke="#5a5a5a" stroke-width="1"/>
<text x="344.5" y="687.6" font-size="11" fill="#333" text-anchor="middle">3000</text>
<line x1="400.1" y1="668.75" x2="400.1" y2="671.75" stroke="#5a5a5a" stroke-width="1"/>
<text x="400.1" y="687.6" font-size="11" fill="#333" text-anchor="middle">4000</text>
<line x1="455.7" y1="668.75" x2="455.7" y2="671.75" stroke="#5a5a5a" stroke-width="1"/>
<text x="455.7" y="687.6" font-size="11" fill="#333" text-anchor="middle">5000</text>
<text x="330.5" y="713" font-size="15.4" fill="#333" text-anchor="middle" xml:space="preserve" style="white-space:pre">galectin concentration   [nM]</text>
<text transform="translate(141.5,557.5) rotate(-90)" x="0" y="0" font-size="15.2" fill="#333" text-anchor="middle">binding signal</text>
<path d="M177.7,668.75 L177.72,668.62 L177.78,668.21 L177.87,667.54 L178.01,666.62 L178.18,665.43 L178.39,664 L178.65,662.34 L178.94,660.45 L179.26,658.35 L179.63,656.06 L180.04,653.57 L180.48,650.92 L180.96,648.12 L181.48,645.18 L182.04,642.12 L182.64,638.95 L183.28,635.68 L183.95,632.34 L184.67,628.94 L185.42,625.49 L186.21,622 L187.04,618.49 L187.91,614.96 L188.82,611.43 L189.77,607.91 L190.75,604.4 L191.77,600.91 L192.84,597.46 L193.94,594.04 L195.07,590.67 L196.25,587.34 L197.47,584.07 L198.72,580.85 L200.02,577.68 L201.35,574.58 L202.72,571.55 L204.13,568.57 L205.58,565.66 L207.06,562.82 L208.59,560.05 L210.15,557.34 L211.75,554.7 L213.4,552.13 L215.08,549.62 L216.79,547.18 L218.55,544.81 L220.35,542.5 L222.18,540.25 L224.05,538.07 L225.96,535.94 L227.91,533.88 L229.9,531.87 L231.93,529.92 L234,528.03 L236.1,526.19 L238.24,524.4 L240.42,522.66 L242.64,520.98 L244.9,519.34 L247.2,517.75 L249.54,516.21 L251.91,514.71 L254.32,513.25 L256.78,511.84 L259.27,510.46 L261.8,509.13 L264.36,507.83 L266.97,506.57 L269.61,505.35 L272.3,504.16 L275.02,503 L277.78,501.88 L280.58,500.79 L283.42,499.73 L286.29,498.69 L289.21,497.69 L292.16,496.71 L295.15,495.77 L298.19,494.84 L301.26,493.94 L304.36,493.07 L307.51,492.22 L310.7,491.39 L313.92,490.59 L317.18,489.8 L320.48,489.04 L323.82,488.29 L327.2,487.57 L330.62,486.86 L334.07,486.18 L337.57,485.51 L341.1,484.85 L344.67,484.22 L348.28,483.6 L351.93,482.99 L355.62,482.4 L359.35,481.83 L363.11,481.27 L366.91,480.72 L370.76,480.18 L374.64,479.66 L378.55,479.15 L382.51,478.66 L386.51,478.17 L390.54,477.7 L394.62,477.24 L398.73,476.78 L402.88,476.34 L407.07,475.91 L411.3,475.49 L415.56,475.08 L419.87,474.68 L424.21,474.28 L428.6,473.9 L433.02,473.52 L437.48,473.15 L441.97,472.79 L446.51,472.44 L451.09,472.1 L455.7,471.76" stroke="#111" stroke-width="1.4" fill="none"/>
<path d="M177.7,668.75 L177.72,668.66 L177.78,668.41 L177.87,667.99 L178.01,667.4 L178.18,666.64 L178.39,665.73 L178.65,664.65 L178.94,663.43 L179.26,662.06 L179.63,660.55 L180.04,658.9 L180.48,657.12 L180.96,655.22 L181.48,653.2 L182.04,651.08 L182.64,648.86 L183.28,646.54 L183.95,644.14 L184.67,641.67 L185.42,639.12 L186.21,636.51 L187.04,633.84 L187.91,631.13 L188.82,628.38 L189.77,625.59 L190.75,622.78 L191.77,619.94 L192.84,617.09 L193.94,614.23 L195.07,611.37 L196.25,608.5 L197.47,605.64 L198.72,602.79 L200.02,599.95 L201.35,597.13 L202.72,594.33 L204.13,591.55 L205.58,588.8 L207.06,586.07 L208.59,583.38 L210.15,580.72 L211.75,578.09 L213.4,575.51 L215.08,572.95 L216.79,570.44 L218.55,567.97 L220.35,565.54 L222.18,563.15 L224.05,560.8 L225.96,558.49 L227.91,556.22 L229.9,554 L231.93,551.82 L234,549.69 L236.1,547.59 L238.24,545.54 L240.42,543.53 L242.64,541.56 L244.9,539.63 L247.2,537.74 L249.54,535.89 L251.91,534.09 L254.32,532.32 L256.78,530.59 L259.27,528.89 L261.8,527.24 L264.36,525.62 L266.97,524.04 L269.61,522.49 L272.3,520.98 L275.02,519.5 L277.78,518.05 L280.58,516.64 L283.42,515.25 L286.29,513.9 L289.21,512.58 L292.16,511.29 L295.15,510.03 L298.19,508.79 L301.26,507.59 L304.36,506.41 L307.51,505.26 L310.7,504.13 L313.92,503.03 L317.18,501.95 L320.48,500.9 L323.82,499.87 L327.2,498.86 L330.62,497.88 L334.07,496.92 L337.57,495.98 L341.1,495.05 L344.67,494.15 L348.28,493.27 L351.93,492.41 L355.62,491.57 L359.35,490.74 L363.11,489.94 L366.91,489.15 L370.76,488.37 L374.64,487.62 L378.55,486.88 L382.51,486.15 L386.51,485.44 L390.54,484.75 L394.62,484.07 L398.73,483.4 L402.88,482.75 L407.07,482.11 L411.3,481.48 L415.56,480.87 L419.87,480.27 L424.21,479.68 L428.6,479.11 L433.02,478.54 L437.48,477.99 L441.97,477.44 L446.51,476.91 L451.09,476.39 L455.7,475.88" stroke="#222" stroke-width="1.8" fill="none" stroke-dasharray="1.4 1.4"/>
<path d="M177.7,668.75 L177.72,668.68 L177.78,668.46 L177.87,668.11 L178.01,667.61 L178.18,666.97 L178.39,666.2 L178.65,665.29 L178.94,664.25 L179.26,663.09 L179.63,661.8 L180.04,660.39 L180.48,658.87 L180.96,657.24 L181.48,655.51 L182.04,653.67 L182.64,651.75 L183.28,649.73 L183.95,647.64 L184.67,645.47 L185.42,643.22 L186.21,640.92 L187.04,638.56 L187.91,636.14 L188.82,633.68 L189.77,631.17 L190.75,628.63 L191.77,626.06 L192.84,623.46 L193.94,620.84 L195.07,618.21 L196.25,615.56 L197.47,612.91 L198.72,610.25 L200.02,607.59 L201.35,604.94 L202.72,602.29 L204.13,599.65 L205.58,597.03 L207.06,594.42 L208.59,591.83 L210.15,589.26 L211.75,586.71 L213.4,584.18 L215.08,581.68 L216.79,579.21 L218.55,576.77 L220.35,574.36 L222.18,571.98 L224.05,569.63 L225.96,567.32 L227.91,565.04 L229.9,562.79 L231.93,560.58 L234,558.4 L236.1,556.26 L238.24,554.15 L240.42,552.08 L242.64,550.05 L244.9,548.05 L247.2,546.09 L249.54,544.16 L251.91,542.27 L254.32,540.41 L256.78,538.59 L259.27,536.8 L261.8,535.05 L264.36,533.33 L266.97,531.65 L269.61,529.99 L272.3,528.37 L275.02,526.79 L277.78,525.23 L280.58,523.7 L283.42,522.21 L286.29,520.74 L289.21,519.31 L292.16,517.9 L295.15,516.53 L298.19,515.18 L301.26,513.85 L304.36,512.56 L307.51,511.29 L310.7,510.05 L313.92,508.83 L317.18,507.64 L320.48,506.47 L323.82,505.33 L327.2,504.2 L330.62,503.11 L334.07,502.03 L337.57,500.98 L341.1,499.95 L344.67,498.93 L348.28,497.94 L351.93,496.97 L355.62,496.02 L359.35,495.09 L363.11,494.18 L366.91,493.28 L370.76,492.4 L374.64,491.54 L378.55,490.7 L382.51,489.88 L386.51,489.07 L390.54,488.27 L394.62,487.49 L398.73,486.73 L402.88,485.98 L407.07,485.25 L411.3,484.53 L415.56,483.83 L419.87,483.14 L424.21,482.46 L428.6,481.79 L433.02,481.14 L437.48,480.5 L441.97,479.87 L446.51,479.26 L451.09,478.65 L455.7,478.06" stroke="#222" stroke-width="1.3" fill="none" stroke-dasharray="4 2"/>
<path d="M177.7,666.56 V670.94 M174.7,666.56 H180.7 M174.7,670.94 H180.7" stroke="#444" stroke-width="1" fill="none"/>
<path d="M179.09,662.17 V666.56 M176.09,662.17 H182.09 M176.09,666.56 H182.09" stroke="#444" stroke-width="1" fill="none"/>
<path d="M180.48,657.79 V662.17 M177.48,657.79 H183.48 M177.48,662.17 H183.48" stroke="#444" stroke-width="1" fill="none"/>
<path d="M183.26,649.02 V657.79 M180.26,649.02 H186.26 M180.26,657.79 H186.26" stroke="#444" stroke-width="1" fill="none"/>
<path d="M191.6,627.09 V635.86 M188.6,627.09 H194.6 M188.6,635.86 H194.6" stroke="#444" stroke-width="1" fill="none"/>
<path d="M205.5,592.01 V613.94 M202.5,592.01 H208.5 M202.5,613.94 H208.5" stroke="#444" stroke-width="1" fill="none"/>
<path d="M233.3,536.54 V576.01 M230.3,536.54 H236.3 M230.3,576.01 H236.3" stroke="#444" stroke-width="1" fill="none"/>
<path d="M455.7,473.62 V482.39 M452.7,473.62 H458.7 M452.7,482.39 H458.7" stroke="#444" stroke-width="1" fill="none"/>
<path d="M177.7,665.46 V669.85 M174.7,665.46 H180.7 M174.7,669.85 H180.7" stroke="#666" stroke-width="1" fill="none"/>
<path d="M179.09,662.17 V666.56 M176.09,662.17 H182.09 M176.09,666.56 H182.09" stroke="#666" stroke-width="1" fill="none"/>
<path d="M180.48,656.69 V661.08 M177.48,656.69 H183.48 M177.48,661.08 H183.48" stroke="#666" stroke-width="1" fill="none"/>
<path d="M183.26,646.83 V655.6 M180.26,646.83 H186.26 M180.26,655.6 H186.26" stroke="#666" stroke-width="1" fill="none"/>
<path d="M191.6,623.37 V636.52 M188.6,623.37 H194.6 M188.6,636.52 H194.6" stroke="#666" stroke-width="1" fill="none"/>
<path d="M205.5,592.01 V609.55 M202.5,592.01 H208.5 M202.5,609.55 H208.5" stroke="#666" stroke-width="1" fill="none"/>
<path d="M233.3,537.2 V554.74 M230.3,537.2 H236.3 M230.3,554.74 H236.3" stroke="#666" stroke-width="1" fill="none"/>
<path d="M455.7,471.42 V480.19 M452.7,471.42 H458.7 M452.7,480.19 H458.7" stroke="#666" stroke-width="1" fill="none"/>
<path d="M180.48,651.21 V655.6 M177.48,651.21 H183.48 M177.48,655.6 H183.48" stroke="#222" stroke-width="1" fill="none"/>
<path d="M183.26,633.01 V641.78 M180.26,633.01 H186.26 M180.26,641.78 H186.26" stroke="#222" stroke-width="1" fill="none"/>
<path d="M191.6,592.01 V605.17 M188.6,592.01 H194.6 M188.6,605.17 H194.6" stroke="#222" stroke-width="1" fill="none"/>
<path d="M205.5,551.45 V571.18 M202.5,551.45 H208.5 M202.5,571.18 H208.5" stroke="#222" stroke-width="1" fill="none"/>
<path d="M233.3,523.17 V531.94 M230.3,523.17 H236.3 M230.3,531.94 H236.3" stroke="#222" stroke-width="1" fill="none"/>
<path d="M455.7,465.72 V478.88 M452.7,465.72 H458.7 M452.7,478.88 H458.7" stroke="#222" stroke-width="1" fill="none"/>
<path d="M175.2,668.75 L177.7,666.25 L180.2,668.75 L177.7,671.25 Z" fill="#222"/>
<path d="M176.59,664.37 L179.09,661.87 L181.59,664.37 L179.09,666.87 Z" fill="#222"/>
<path d="M177.98,659.98 L180.48,657.48 L182.98,659.98 L180.48,662.48 Z" fill="#222"/>
<path d="M180.76,653.4 L183.26,650.9 L185.76,653.4 L183.26,655.9 Z" fill="#222"/>
<path d="M189.1,631.48 L191.6,628.98 L194.1,631.48 L191.6,633.98 Z" fill="#222"/>
<path d="M203,602.98 L205.5,600.48 L208,602.98 L205.5,605.48 Z" fill="#222"/>
<path d="M230.8,556.27 L233.3,553.77 L235.8,556.27 L233.3,558.77 Z" fill="#222"/>
<path d="M453.2,478 L455.7,475.5 L458.2,478 L455.7,480.5 Z" fill="#222"/>
<circle cx="177.7" cy="667.65" r="2.6" fill="#9a9a9a" stroke="#555" stroke-width="0.8"/>
<circle cx="179.09" cy="664.37" r="2.6" fill="#9a9a9a" stroke="#555" stroke-width="0.8"/>
<circle cx="180.48" cy="658.88" r="2.6" fill="#9a9a9a" stroke="#555" stroke-width="0.8"/>
<circle cx="183.26" cy="651.21" r="2.6" fill="#9a9a9a" stroke="#555" stroke-width="0.8"/>
<circle cx="191.6" cy="629.94" r="2.6" fill="#9a9a9a" stroke="#555" stroke-width="0.8"/>
<circle cx="205.5" cy="600.78" r="2.6" fill="#9a9a9a" stroke="#555" stroke-width="0.8"/>
<circle cx="233.3" cy="545.97" r="2.6" fill="#9a9a9a" stroke="#555" stroke-width="0.8"/>
<circle cx="455.7" cy="475.81" r="2.6" fill="#9a9a9a" stroke="#555" stroke-width="0.8"/>
<circle cx="180.48" cy="653.4" r="3.1" fill="#111"/>
<circle cx="183.26" cy="637.4" r="3.1" fill="#111"/>
<circle cx="191.6" cy="598.59" r="3.1" fill="#111"/>
<circle cx="205.5" cy="561.32" r="3.1" fill="#111"/>
<circle cx="233.3" cy="527.55" r="3.1" fill="#111"/>
<circle cx="455.7" cy="472.3" r="3.1" fill="#111"/>
<text x="372" y="587.5" font-size="21.9" fill="#222" text-anchor="middle">specific</text>
<text x="372" y="612.3" font-size="21.9" fill="#222" text-anchor="middle">galectin binding</text>
<text x="48.3" y="284.8" font-size="22" fill="#222" text-anchor="middle">glycan</text>
<text x="48.5" y="310.1" font-size="22" fill="#222" text-anchor="middle">oligomers</text>
<text x="793" y="521" font-size="22" fill="#222" text-anchor="middle">neo-</text>
<text x="792.7" y="545" font-size="22" fill="#222" text-anchor="middle">glycoproteins</text>
<text x="614" y="688.3" font-size="22" fill="#222">LacNAc: <tspan font-style="italic">N</tspan>-acetyllactosamine</text>
<text x="614" y="713.7" font-size="22" fill="#222">BSA: bovine serum albumin</text>
</svg>
</body></html>
